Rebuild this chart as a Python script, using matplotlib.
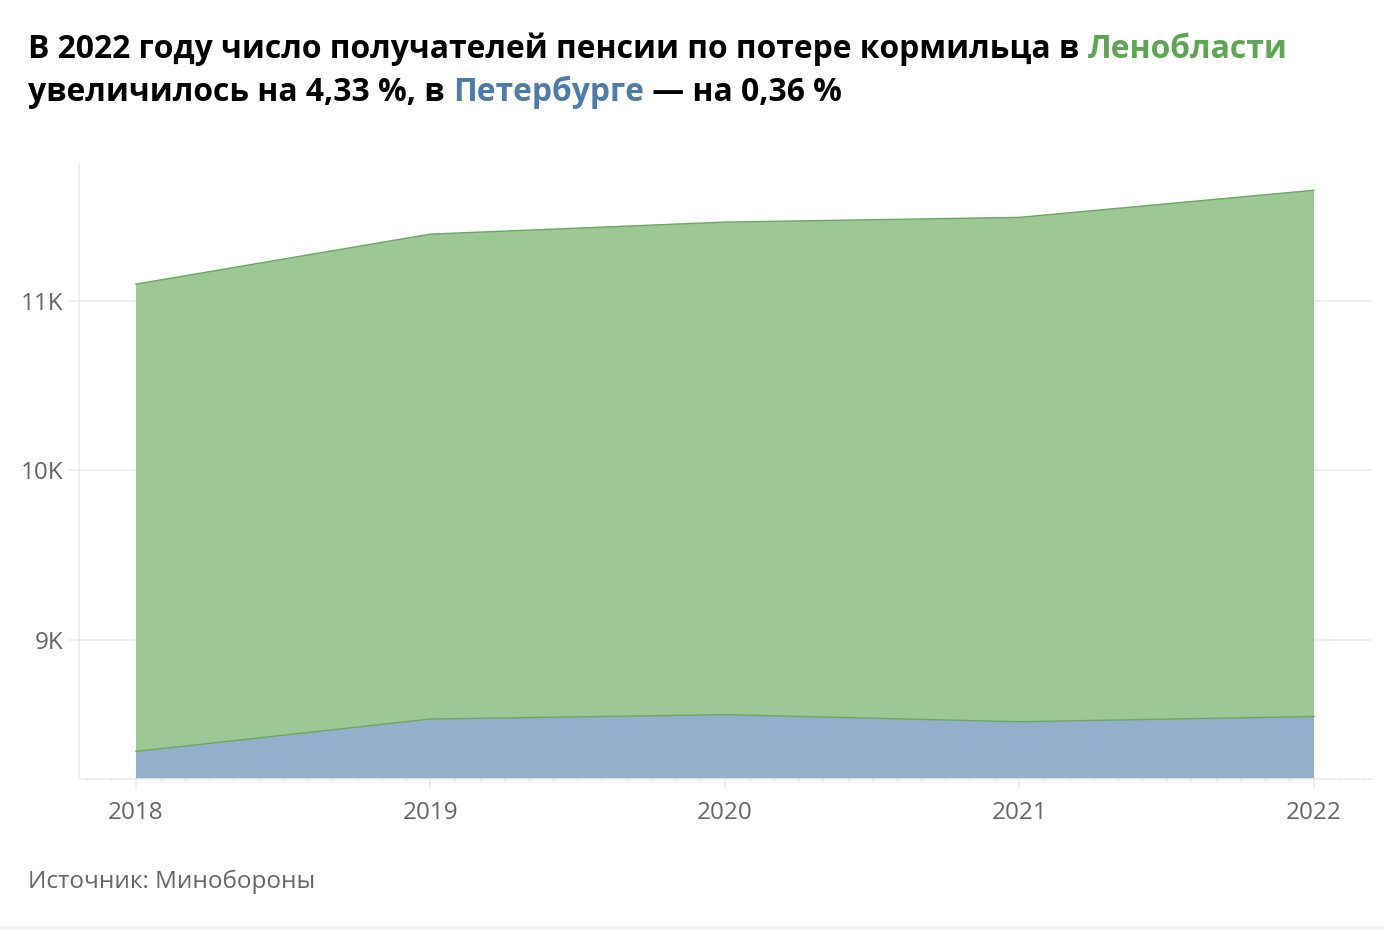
import matplotlib.pyplot as plt
from matplotlib.ticker import FixedLocator, MultipleLocator, FuncFormatter

# Данные (чтение с графика)
years = [2018, 2019, 2020, 2021, 2022]
spb = [8340, 8531, 8557, 8515, 8546]      # Петербург
leno = [2759, 2863, 2908, 2978, 3107]     # Ленобласть (в стопке сверху)

green_fill = '#9ac592'
green_line = '#6aa862'
blue_fill = '#91adca'
green_txt = '#5ea653'
blue_txt = '#4f7bab'
grey_txt = '#666666'
grid_col = '#ececec'

plt.rcParams['font.family'] = ['Open Sans', 'DejaVu Sans']

W, H = 1384, 930
fig = plt.figure(figsize=(W / 100, H / 100), dpi=100)
ax = fig.add_axes([79 / W, 1 - 779 / H, (1372 - 79) / W, (779 - 164) / H])

ax.stackplot(years, spb, leno, colors=[blue_fill, green_fill], linewidth=0,
             alpha=0.97, zorder=2)
tops = [a + b for a, b in zip(spb, leno)]
ax.plot(years, spb, color=green_line, lw=1, zorder=3)
ax.plot(years, tops, color=green_line, lw=1, zorder=3)

ax.set_xlim(2018 - 0.1935, 2022 + 0.197)
ax.set_ylim(8177, 11808)

ax.yaxis.set_major_locator(FixedLocator([9000, 10000, 11000]))
ax.yaxis.set_major_formatter(FuncFormatter(lambda v, p: f'{int(v / 1000)}K'))
ax.xaxis.set_major_locator(FixedLocator(years))
ax.xaxis.set_minor_locator(MultipleLocator(1 / 12))
ax.xaxis.set_major_formatter(FuncFormatter(lambda v, p: f'{int(round(v))}'))

ax.set_axisbelow(True)
ax.grid(axis='y', color=grid_col, lw=1.2)
for s in ['top', 'right']:
    ax.spines[s].set_visible(False)
for s in ['left', 'bottom']:
    ax.spines[s].set_color(grid_col)
    ax.spines[s].set_linewidth(1.2)

ax.tick_params(axis='y', length=8, width=1.2, color=grid_col,
               labelcolor=grey_txt, labelsize=17.5, pad=3.5)
ax.tick_params(axis='x', which='major', length=7, width=1.2, color=grid_col,
               labelcolor=grey_txt, labelsize=17.5, pad=9)
ax.tick_params(axis='x', which='minor', length=2.5, width=1, color=grid_col)

# Заголовок из цветных частей
lines = [
    [('В 2022 году число получателей пенсии по потере кормильца в ', 'black'),
     ('Ленобласти', green_txt)],
    [('увеличилось на 4,33 %, в ', 'black'), ('Петербурге', blue_txt),
     (' — на 0,36 %', 'black')],
]
renderer = fig.canvas.get_renderer()
baselines = [58, 101]
for parts, yb in zip(lines, baselines):
    x = 28
    for txt, col in parts:
        t = fig.text(x / W, 1 - yb / H, txt, color=col, fontsize=22.95,
                     fontweight='bold', va='baseline', ha='left')
        bb = t.get_window_extent(renderer=renderer)
        x += bb.width

fig.text(28 / W, 1 - 888 / H, 'Источник: Минобороны', color=grey_txt,
         fontsize=17.5, va='baseline', ha='left')

fig.add_artist(plt.Line2D([0, 1], [1 - 927 / H] * 2, color='#f0f0f0', lw=2))

fig.savefig('out.png', dpi=100)
